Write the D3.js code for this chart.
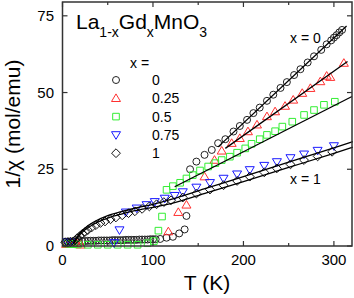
<!DOCTYPE html>
<html>
<head>
<meta charset="utf-8">
<script src="https://cdn.jsdelivr.net/npm/d3@7"></script>
<style>
  body { margin: 0; background: #fff; }
  svg text { font-family: "Liberation Sans", Arial, sans-serif; }
</style>
</head>
<body>
<div id="chart"></div>
<script>
// x = 0  (T, 1/chi)
const series0 = [
  [3, 1.4], [6, 1.5], [9, 1.5], [12, 1.5], [15, 1.6], [18, 1.6],
  [22, 1.6], [25, 1.6], [28, 1.7], [31, 1.7], [34, 1.7], [37, 1.7], [40, 1.8], [43, 1.8],
  [46, 1.8], [49, 1.8], [52, 1.8], [55, 1.9], [58, 1.9], [61, 1.9], [64, 1.9], [67, 1.9],
  [70, 2.0], [73, 2.0], [76, 2.0], [79, 2.0], [82, 2.0], [85, 2.1], [88, 2.1], [91, 2.1],
  [94, 2.1], [97, 2.2], [100, 2.2], [103, 2.2], [108, 2.3], [115, 2.7], [122, 3.0],
  [129, 4.1], [135, 5.4], [137, 9.8], [141, 25.0], [148, 27.5], [157, 29.7], [165, 31.3],
  [172, 33.5], [180, 34.8], [189, 37.3], [196, 39.1], [204, 41.1], [211, 43.3], [218, 45.1],
  [226, 47.3], [233, 49.3], [241, 51.5], [248, 53.4], [256, 55.7], [263, 57.6], [271, 59.8],
  [278, 61.8], [286, 63.9], [292, 65.7], [297, 67.0], [300, 67.9], [303, 68.7], [306, 69.6],
  [309, 70.4]
];
// x = 0.25
const series025 = [
  [4, 0.6], [8, 0.6], [12, 0.7], [16, 0.8], [20, 0.4],
  [117, 4.7], [128, 11.0], [137, 13.4], [157, 22.6], [168, 28.0], [176, 31.0], [187, 33.5],
  [196, 35.1], [205, 37.3], [215, 39.5], [226, 42.2], [235, 43.8], [246, 45.6], [255, 47.6],
  [265, 49.8], [274, 51.4], [285, 53.6], [292, 55.4], [296, 55.0], [311, 59.6]
];
// x = 0.5
const series05 = [
  [4, 0.8], [8, 0.7], [12, 0.6], [17, 0.5], [28, 0.4], [39, 0.4], [50, 0.4], [61, 0.4],
  [72, 0.4], [83, 0.4], [94, 0.9], [101, 1.6], [106, 5.0], [110, 9.6], [115, 18.3],
  [122, 19.5], [130, 20.6], [137, 22.0], [144, 23.1], [152, 24.6], [161, 25.9], [169, 27.0],
  [176, 28.0], [185, 29.1], [193, 30.4], [202, 31.8], [209, 33.3], [218, 34.8], [226, 36.2],
  [235, 37.4], [243, 38.9], [254, 40.5], [267, 42.7], [278, 44.3], [289, 46.0], [301, 47.0]
];
// x = 0.75
const series075 = [
  [5, 1.3], [9, 1.2], [57, 1.0], [63, 5.2], [70, 11.0], [82, 12.3], [93, 13.4], [102, 14.4],
  [113, 15.5], [124, 16.4], [133, 17.6], [148, 19.1], [163, 20.6], [178, 22.0], [193, 23.4],
  [207, 24.8], [223, 26.2], [237, 27.4], [252, 28.7], [267, 29.9], [282, 31.1], [300, 32.6]
];
// x = 1
const series1 = [
  [3, 1.2], [6, 1.2], [9, 1.3], [12, 1.5], [14, 1.9], [16, 2.5], [19, 3.2], [22, 4.0],
  [25, 4.6], [28, 5.2], [32, 6.0], [37, 6.8], [42, 7.5], [47, 8.0], [53, 8.7], [59, 9.3],
  [66, 10.0], [73, 10.7], [80, 11.3], [88, 12.1], [96, 12.9], [104, 13.6], [112, 14.3],
  [120, 14.9], [133, 15.8], [148, 17.1], [163, 18.4], [178, 19.8], [193, 21.2], [207, 22.6],
  [223, 24.0], [237, 25.3], [252, 26.6], [267, 28.0], [282, 29.2], [298, 30.7]
];

// Curie-Weiss fits
const fit0 = [[172, 32.3], [314, 71.7]];
const fit025 = [[180, 31.8], [315, 60.1]];
const fit05 = [[124, 19.3], [320, 48.7]];
const fit075 = [[12, 1.0], [18, 3.8], [25, 5.9], [35, 7.9], [50, 9.9], [65, 11.2], [80, 12.3],
  [100, 13.6], [120, 15.2], [160, 18.9], [200, 22.6], [250, 27.3], [300, 32.0], [321, 34.0]];
const fit1 = [[12, 0.7], [18, 3.3], [25, 5.3], [35, 7.2], [50, 9.1], [65, 10.4], [80, 11.5],
  [100, 12.6], [120, 13.8], [160, 17.4], [200, 21.0], [250, 25.6], [300, 30.2], [321, 32.2]];

const legendLabels = ["0", "0.25", "0.5", "0.75", "1"];
const xTicks = [0, 100, 200, 300];
const xMinor = [50, 150, 250];
const yTicks = [0, 25, 50, 75];

(function () {
  const width = 354;
  const height = 298;
  const left = 62.5, right = 352, top = 2, bottom = 246;

  const svg = d3.select("#chart")
    .append("svg")
    .attr("width", width)
    .attr("height", height);

  const x = d3.scaleLinear().domain([0, 320]).range([left, right]);
  const y = d3.scaleLinear().domain([0, 79.5]).range([bottom, top]);

  const styles = [
    { data: series0, shape: "circle", color: "#222" },
    { data: series025, shape: "up", color: "#ff3030" },
    { data: series05, shape: "square", color: "#33ee33" },
    { data: series075, shape: "down", color: "#1a1aff" },
    { data: series1, shape: "diamond", color: "#111" }
  ];

  function marker(shape) {
    switch (shape) {
      case "circle": return "M3.5,0A3.5,3.5 0 1,1 -3.5,0A3.5,3.5 0 1,1 3.5,0Z";
      case "up": return "M0,-4.4L4.5,3.2L-4.5,3.2Z";
      case "down": return "M0,4.4L4.5,-3.2L-4.5,-3.2Z";
      case "square": return "M-3.3,-3.3H3.3V3.3H-3.3Z";
      case "diamond": return "M0,-4.4L4.4,0L0,4.4L-4.4,0Z";
    }
  }

  const plot = svg.append("g");

  // markers
  styles.forEach(s => {
    plot.selectAll(null)
      .data(s.data)
      .enter()
      .append("path")
      .attr("transform", d => `translate(${x(d[0])},${y(d[1])})`)
      .attr("d", marker(s.shape))
      .attr("fill", "none")
      .attr("stroke", s.color)
      .attr("stroke-width", 1);
  });

  // fit lines
  const line = d3.line().x(d => x(d[0])).y(d => y(d[1])).curve(d3.curveMonotoneX);
  [fit0, fit025, fit05, fit075, fit1].forEach(f => {
    plot.append("path")
      .attr("d", line(f))
      .attr("fill", "none")
      .attr("stroke", "#000")
      .attr("stroke-width", 1.3);
  });

  // frame
  svg.append("rect")
    .attr("x", left)
    .attr("y", top)
    .attr("width", right - left)
    .attr("height", bottom - top)
    .attr("fill", "none")
    .attr("stroke", "#333")
    .attr("stroke-width", 1.5);

  // ticks (inward, mirrored)
  const tickG = svg.append("g").attr("stroke", "#333").attr("stroke-width", 1.2);
  xTicks.concat(xMinor).forEach(t => {
    const len = xMinor.includes(t) ? 3 : 5;
    tickG.append("line").attr("x1", x(t)).attr("x2", x(t)).attr("y1", bottom).attr("y2", bottom - len);
    tickG.append("line").attr("x1", x(t)).attr("x2", x(t)).attr("y1", top).attr("y2", top + len);
  });
  yTicks.forEach(t => {
    tickG.append("line").attr("x1", left).attr("x2", left + 5).attr("y1", y(t)).attr("y2", y(t));
    tickG.append("line").attr("x1", right).attr("x2", right - 5).attr("y1", y(t)).attr("y2", y(t));
  });

  svg.selectAll("text.xt")
    .data(xTicks)
    .enter()
    .append("text")
    .attr("x", d => x(d))
    .attr("y", 265)
    .attr("text-anchor", "middle")
    .style("font-size", "15px")
    .text(d => d);

  svg.selectAll("text.yt")
    .data(yTicks)
    .enter()
    .append("text")
    .attr("x", 54)
    .attr("y", d => y(d) + 5)
    .attr("text-anchor", "end")
    .style("font-size", "15px")
    .text(d => d);

  // axis titles
  svg.append("text")
    .attr("x", 207)
    .attr("y", 290)
    .attr("text-anchor", "middle")
    .style("font-size", "21px")
    .text("T (K)");

  svg.append("text")
    .attr("transform", `translate(20,${(top + bottom) / 2}) rotate(-90)`)
    .attr("text-anchor", "middle")
    .style("font-size", "21px")
    .text("1/χ (mol/emu)");

  // compound name
  const title = svg.append("text")
    .attr("x", 76)
    .attr("y", 29)
    .style("font-size", "21px");
  title.append("tspan").text("La");
  title.append("tspan").attr("dy", 8).style("font-size", "14px").text("1-x");
  title.append("tspan").attr("dy", -8).text("Gd");
  title.append("tspan").attr("dy", 8).style("font-size", "14px").text("x");
  title.append("tspan").attr("dy", -8).text("MnO");
  title.append("tspan").attr("dy", 8).style("font-size", "14px").text("3");

  // legend
  svg.append("text")
    .attr("x", 130)
    .attr("y", 68)
    .style("font-size", "14px")
    .text("x =");

  const leg = svg.selectAll("g.leg")
    .data(styles)
    .enter()
    .append("g")
    .attr("transform", (d, i) => `translate(116,${80 + i * 18.3})`);
  leg.append("path")
    .attr("d", d => marker(d.shape))
    .attr("fill", "none")
    .attr("stroke", d => d.color)
    .attr("stroke-width", 1);
  leg.append("text")
    .attr("x", 36)
    .attr("y", 5)
    .style("font-size", "14px")
    .text((d, i) => legendLabels[i]);

  svg.append("text").attr("x", 290).attr("y", 43).style("font-size", "14px").text("x = 0");
  svg.append("text").attr("x", 290).attr("y", 184).style("font-size", "14px").text("x = 1");
})();
</script>
</body>
</html>
